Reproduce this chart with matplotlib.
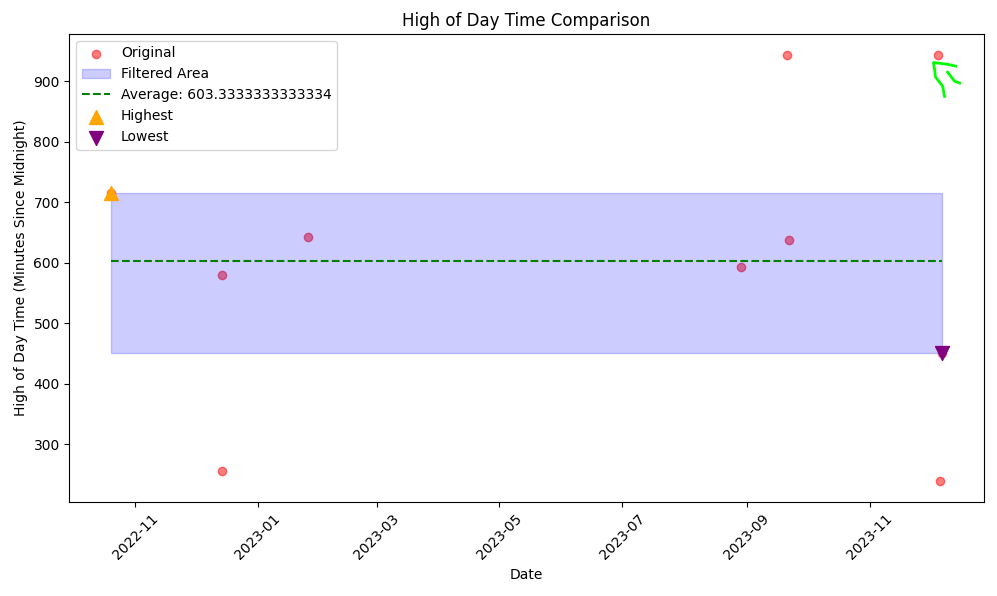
import pandas as pd
import matplotlib.pyplot as plt

# Datos originales (fecha, minutos desde medianoche)
fechas = pd.to_datetime(['2022-10-20', '2022-12-14', '2022-12-14', '2023-01-26',
                         '2023-08-29', '2023-09-21', '2023-09-22', '2023-12-05',
                         '2023-12-06', '2023-12-07'])
minutos = [715, 580, 255, 643, 593, 943, 638, 943, 240, 451]

# Trazo verde dibujado a mano sobre la grafica
trazo1_fechas = pd.to_datetime(['2023-12-13 19:00', '2023-12-09 19:00', '2023-12-02 19:00',
                                '2023-12-03 07:00', '2023-12-03 19:00', '2023-12-07 07:00',
                                '2023-12-08 07:00'])
trazo1_valores = [925, 928, 931, 920, 907, 892, 875]
trazo2_fechas = pd.to_datetime(['2023-12-09 19:00', '2023-12-13 07:00', '2023-12-15 19:00'])
trazo2_valores = [915, 900, 897]

datos = pd.DataFrame({'Fecha': fechas, 'Minutos': minutos})

# Rango filtrado y promedio
minimo = 451
maximo = 715
filtrados = datos[(datos['Minutos'] >= minimo) & (datos['Minutos'] <= maximo)]
promedio = filtrados['Minutos'].mean()

alto = datos.loc[datos['Minutos'] == maximo]
bajo = datos.loc[datos['Minutos'] == minimo]

plt.figure(figsize=(9.97, 5.96))
plt.scatter(datos['Fecha'], datos['Minutos'], color='red', alpha=0.5, label='Original')
plt.fill_between([datos['Fecha'].min(), datos['Fecha'].max()], minimo, maximo,
                 color='blue', alpha=0.2, label='Filtered Area')
plt.plot([datos['Fecha'].min(), datos['Fecha'].max()], [promedio, promedio],
         'g--', label=f'Average: {promedio}')
plt.scatter(alto['Fecha'], alto['Minutos'], marker='^', color='orange', s=100, label='Highest', zorder=3)
plt.scatter(bajo['Fecha'], bajo['Minutos'], marker='v', color='purple', s=100, label='Lowest', zorder=3)

# el trazo no cambia los limites de los ejes
xl = plt.xlim()
yl = plt.ylim()
plt.plot(trazo1_fechas, trazo1_valores, color='lime', linewidth=2)
plt.plot(trazo2_fechas, trazo2_valores, color='lime', linewidth=2)
plt.xlim(xl)
plt.ylim(yl)

plt.xlabel('Date')
plt.ylabel('High of Day Time (Minutes Since Midnight)')
plt.title('High of Day Time Comparison')
plt.legend(loc='upper left')
plt.xticks(rotation=45)
plt.subplots_adjust(left=0.0697, right=0.9865, top=0.943, bottom=0.158)

plt.savefig('out.png', dpi=100)
